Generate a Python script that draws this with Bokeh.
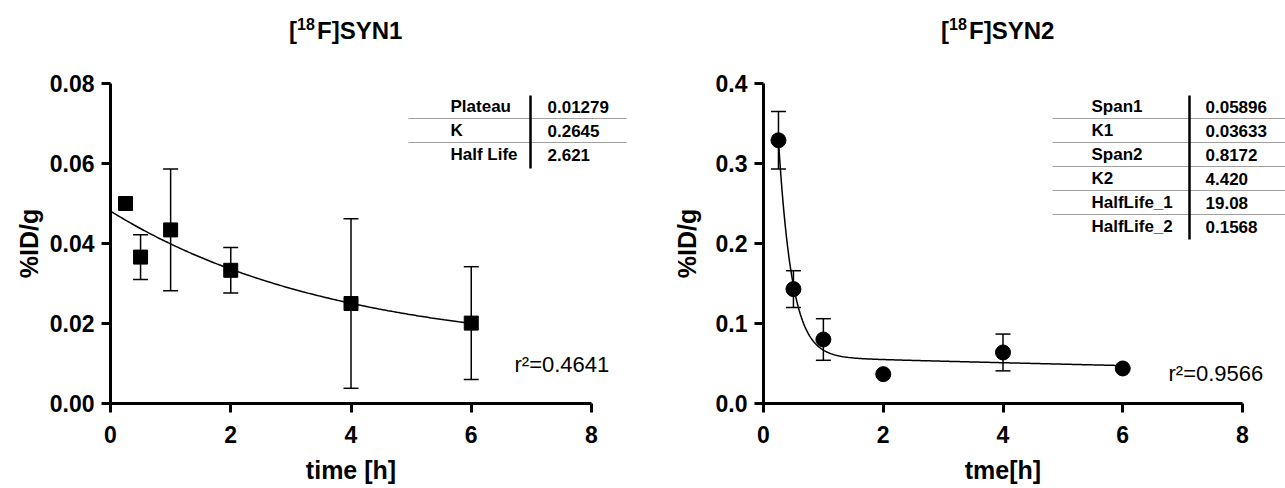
import numpy as np
from bokeh.plotting import figure
from bokeh.models import (Range1d, FixedTicker, PrintfTickFormatter, Whisker,
                          TeeHead, ColumnDataSource, Label)
from bokeh.layouts import row
from bokeh.embed import file_html
from bokeh.resources import INLINE
from bokeh.core.properties import value

# ---------------- data ----------------
time_h = [0.25, 0.5, 1, 2, 4, 6]

syn1_mean = [0.0500, 0.0366, 0.0434, 0.0333, 0.0250, 0.0201]
syn1_sd = [0.0, 0.0056, 0.0152, 0.0057, 0.0212, 0.0141]

syn2_mean = [0.329, 0.143, 0.080, 0.0367, 0.0638, 0.0438]
syn2_sd = [0.036, 0.023, 0.026, 0.0, 0.023, 0.0]

# one-phase decay fit (SYN1)
syn1_Y0 = 0.0481
syn1_plateau = 0.01279
syn1_K = 0.2645
# two-phase decay fit (SYN2)
syn2_span1 = 0.05896
syn2_K1 = 0.03633
syn2_span2 = 0.8172
syn2_K2 = 4.420

syn1_table_names = ["Plateau", "K", "Half Life"]
syn1_table_values = ["0.01279", "0.2645", "2.621"]
syn2_table_names = ["Span1", "K1", "Span2", "K2", "HalfLife_1", "HalfLife_2"]
syn2_table_values = ["0.05896", "0.03633", "0.8172", "4.420", "19.08", "0.1568"]

syn1_r2 = "r\u00b2=0.4641"
syn2_r2 = "r\u00b2=0.9566"

x_ticks = [0, 2, 4, 6, 8]
syn1_y_ticks = [0, 0.02, 0.04, 0.06, 0.08]
syn2_y_ticks = [0, 0.1, 0.2, 0.3, 0.4]

titles = ["SYN1", "SYN2"]
x_labels = ["time [h]", "tme[h]"]
y_label = "%ID/g"

# ---------------- style / layout ----------------
FONT = "Liberation Sans"
H = 488


def make_panel(fig_left, width, X0, X8, y_max, y_ticks, y_fmt,
               mean, sd, marker, msize, fit_x, fit_y, title_tail, xlabel,
               names, values, tbl, r2_text, r2_pos, ylab_standoff):
    Y0, YT = 403, 83
    ppu_x = (X8 - X0) / 8.0
    ppu_y = (Y0 - YT) / y_max

    def px(v):
        return (v - X0) / ppu_x

    def py(v):
        return (Y0 - v) / ppu_y

    p = figure(width=width, height=H,
               x_range=Range1d(px(fig_left), px(fig_left + width)),
               y_range=Range1d(py(H), py(0)), output_backend="svg",
               toolbar_location=None, min_border=0, min_border_left=0,
               min_border_right=0, min_border_top=0, min_border_bottom=0)
    p.outline_line_color = None
    p.grid.visible = False
    p.background_fill_color = "white"
    p.border_fill_color = "white"

    for ax in (p.xaxis[0], p.yaxis[0]):
        ax.fixed_location = 0
        ax.axis_line_width = 3
        ax.axis_line_color = "black"
        ax.major_tick_line_width = 3
        ax.major_tick_line_color = "black"
        ax.major_tick_out = 9
        ax.major_tick_in = 0
        ax.minor_tick_line_color = None
        ax.major_label_text_font = FONT
        ax.major_label_text_font_style = "bold"
        ax.major_label_text_font_size = "23px"
        ax.major_label_text_color = "black"
        ax.axis_label_text_font = FONT
        ax.axis_label_text_font_style = "bold"
        ax.axis_label_text_font_size = "25px"
        ax.axis_label_text_color = "black"

    p.xaxis.bounds = (0, 8)
    p.xaxis.ticker = FixedTicker(ticks=x_ticks)
    p.xaxis.formatter = PrintfTickFormatter(format="%d")
    p.xaxis.major_label_standoff = 13
    p.xaxis.axis_label = xlabel
    p.xaxis.axis_label_standoff = 10

    p.yaxis.bounds = (0, y_max)
    p.yaxis.ticker = FixedTicker(ticks=y_ticks)
    p.yaxis.formatter = PrintfTickFormatter(format=y_fmt)
    p.yaxis.major_label_standoff = 7
    p.yaxis.axis_label = y_label
    p.yaxis.axis_label_standoff = ylab_standoff

    # error bars
    idx = [i for i, s in enumerate(sd) if s > 0]
    wsrc = ColumnDataSource(dict(
        x=[time_h[i] for i in idx],
        lower=[mean[i] - sd[i] for i in idx],
        upper=[mean[i] + sd[i] for i in idx]))
    w = Whisker(source=wsrc, base="x", lower="lower", upper="upper",
                dimension="height", line_width=1.5, line_color="black",
                level="underlay",
                upper_head=TeeHead(size=15, line_width=1.5, line_color="black"),
                lower_head=TeeHead(size=15, line_width=1.5, line_color="black"))
    p.add_layout(w)

    # fit curve
    p.line(fit_x, fit_y, line_width=1.5, line_color="black")
    # points
    p.scatter(time_h, mean, marker=marker, size=msize, fill_color="black",
              line_color="black")

    # parameter table
    lx, vx, dx, l0, l1, rows, seps, dtop, dbot = tbl
    p.text(x=[px(lx)] * len(names), y=[py(r) for r in rows], text=names,
           text_font=value(FONT), text_font_style="bold",
           text_font_size="17px", text_baseline="middle", text_align="left",
           text_color="black")
    p.text(x=[px(vx)] * len(values), y=[py(r) for r in rows], text=values,
           text_font=value(FONT), text_font_style="bold",
           text_font_size="17px", text_baseline="middle", text_align="left",
           text_color="black")
    p.segment(x0=[px(l0)] * len(seps), x1=[px(l1)] * len(seps),
              y0=[py(s) for s in seps], y1=[py(s) for s in seps],
              line_color="#a0a0a0", line_width=1.2)
    p.segment(x0=[px(dx)], x1=[px(dx)], y0=[py(dtop)], y1=[py(dbot)],
              line_color="black", line_width=2.5)

    # r^2
    p.add_layout(Label(x=px(r2_pos[0]), y=py(r2_pos[1]), text=r2_text,
                       text_font=FONT, text_font_size="22px",
                       text_baseline="middle", text_align="left",
                       text_color="black"))

    # title "[18F]SYNx"
    ty = py(30)
    p.add_layout(Label(x=4, y=ty, text="[", text_font=FONT,
                       text_font_style="bold", text_font_size="24px",
                       text_baseline="middle", text_align="left",
                       x_offset=-62, text_color="black"))
    p.add_layout(Label(x=4, y=ty, text="18", text_font=FONT,
                       text_font_style="bold", text_font_size="16px",
                       text_baseline="middle", text_align="left",
                       x_offset=-54, y_offset=7, text_color="black"))
    p.add_layout(Label(x=4, y=ty, text="F]" + title_tail, text_font=FONT,
                       text_font_style="bold", text_font_size="24px",
                       text_baseline="middle", text_align="left",
                       x_offset=-34, text_color="black"))
    return p


fit1_x = np.linspace(0, 6, 200)
fit1_y = (syn1_Y0 - syn1_plateau) * np.exp(-syn1_K * fit1_x) + syn1_plateau
fit2_x = np.linspace(0.25, 6, 300)
fit2_y = syn2_span1 * np.exp(-syn2_K1 * fit2_x) + syn2_span2 * np.exp(-syn2_K2 * fit2_x)

tbl1 = (450, 547, 530, 408, 626, [106, 130, 154], [118, 142], 95, 168)
tbl2 = (1091, 1205, 1189, 1052, 1290,
        [106, 130, 154, 178, 202, 226], [118, 142, 166, 190, 214], 95, 239)

p1 = make_panel(0, 640, 110, 591, 0.08, syn1_y_ticks, "%.2f",
                syn1_mean, syn1_sd, "square", 14, fit1_x, fit1_y, titles[0],
                x_labels[0], syn1_table_names, syn1_table_values, tbl1,
                syn1_r2, (514, 364), 4)
p2 = make_panel(640, 645, 763, 1242, 0.4, syn2_y_ticks, "%.1f",
                syn2_mean, syn2_sd, "circle", 15, fit2_x, fit2_y, titles[1],
                x_labels[1], syn2_table_names, syn2_table_values, tbl2,
                syn2_r2, (1168, 373), 12)

layout = row(p1, p2)
open("out.html", "w").write(file_html(layout, INLINE))
